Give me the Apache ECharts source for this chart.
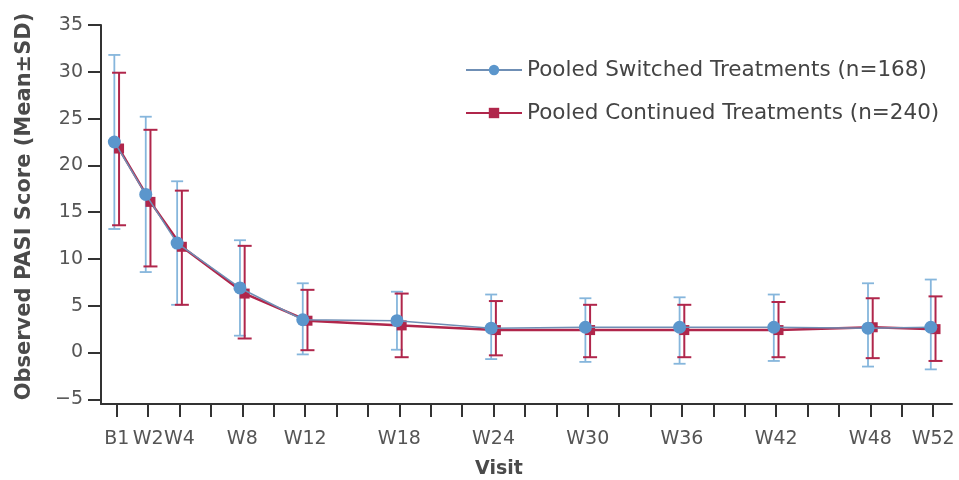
<!DOCTYPE html>
<html>
<head>
<meta charset="utf-8">
<script src="https://cdn.jsdelivr.net/npm/echarts@6/dist/echarts.min.js"></script>
<style>
  html, body { margin: 0; padding: 0; background: #fff; }
  #chart { width: 959px; height: 480px; }
</style>
</head>
<body>
<div id="chart"></div>
<script>
// visit weeks and labels
const weeks = [0, 2, 4, 8, 12, 18, 24, 30, 36, 42, 48, 52];
const visitLabels = ['B1', 'W2', 'W4', 'W8', 'W12', 'W18', 'W24', 'W30', 'W36', 'W42', 'W48', 'W52'];
const tickWeeks = [0, 2, 4, 6, 8, 10, 12, 14, 16, 18, 20, 22, 24, 26, 28, 30, 32, 34, 36, 38, 40, 42, 44, 46, 48, 50, 52];
const yTicks = [-5, 0, 5, 10, 15, 20, 25, 30, 35];

// Pooled Switched Treatments (n=168)
const switchedMean = [22.5, 16.9, 11.7, 6.9, 3.5, 3.4, 2.6, 2.7, 2.7, 2.7, 2.6, 2.7];
const switchedUpper = [31.8, 25.2, 18.3, 12.0, 7.4, 6.5, 6.2, 5.8, 5.9, 6.2, 7.4, 7.8];
const switchedLower = [13.2, 8.6, 5.1, 1.8, -0.2, 0.3, -0.7, -1.0, -1.2, -0.9, -1.5, -1.8];

// Pooled Continued Treatments (n=240)
const continuedMean = [21.8, 16.1, 11.3, 6.3, 3.4, 2.9, 2.4, 2.4, 2.4, 2.4, 2.7, 2.5];
const continuedUpper = [29.9, 23.8, 17.3, 11.4, 6.7, 6.3, 5.5, 5.1, 5.1, 5.4, 5.8, 6.0];
const continuedLower = [13.6, 9.2, 5.1, 1.5, 0.25, -0.5, -0.3, -0.5, -0.5, -0.5, -0.6, -0.9];

const blue = '#5b96cc';
const blueBar = '#86b6dc';
const red = '#b0264b';
const FONT = 'DejaVu Sans';

const SHIFT = 0.15; // small horizontal dodge between the two groups (weeks)

const chart = echarts.init(document.getElementById('chart'));

function errorBars(name, shift, upper, lower, color, capW, lw) {
  return {
    name: name,
    type: 'custom',
    silent: true,
    data: weeks.map((w, i) => [w + shift, lower[i], upper[i]]),
    renderItem(params, api) {
      const x = api.value(0);
      const lo = api.coord([x, api.value(1)]);
      const hi = api.coord([x, api.value(2)]);
      const st = { stroke: color, lineWidth: lw };
      return {
        type: 'group',
        children: [
          { type: 'line', shape: { x1: lo[0], y1: lo[1], x2: hi[0], y2: hi[1] }, style: st },
          { type: 'line', shape: { x1: hi[0] - capW / 2, y1: hi[1], x2: hi[0] + capW / 2, y2: hi[1] }, style: st },
          { type: 'line', shape: { x1: lo[0] - capW / 2, y1: lo[1], x2: lo[0] + capW / 2, y2: lo[1] }, style: st }
        ]
      };
    },
    z: 1
  };
}

const axisText = { color: '#555', fontSize: 19, fontFamily: FONT };

chart.setOption({
  animation: false,
  textStyle: { fontFamily: FONT },
  grid: { left: 101, right: 7, top: 25, bottom: 76, outerBoundsMode: 'none', containLabel: false },
  title: {
    text: 'Visit',
    left: 494,
    top: 455,
    textAlign: 'center',
    textStyle: { fontSize: 19, fontWeight: 'bold', color: '#4a4a4a', fontFamily: FONT }
  },
  legend: {
    orient: 'vertical',
    left: 460,
    top: 54,
    itemWidth: 56,
    itemHeight: 13,
    itemGap: 21,
    textStyle: { fontSize: 21.5, color: '#444', fontFamily: FONT },
    data: ['Pooled Switched Treatments (n=168)', 'Pooled Continued Treatments (n=240)']
  },
  xAxis: {
    type: 'value',
    min: -1.0,
    max: 53.2,
    splitLine: { show: false },
    axisLine: { show: true, onZero: false, lineStyle: { color: '#333', width: 2 } },
    axisTick: { show: true, length: 13, customValues: tickWeeks, lineStyle: { color: '#333', width: 2 } },
    axisLabel: {
      ...axisText,
      margin: 26,
      customValues: weeks,
      formatter: v => visitLabels[weeks.indexOf(v)] || ''
    }
  },
  yAxis: {
    type: 'value',
    min: -5.5,
    max: 35,
    name: 'Observed PASI Score (Mean±SD)',
    nameLocation: 'middle',
    nameGap: 66,
    nameTextStyle: { fontSize: 21, fontWeight: 'bold', color: '#4a4a4a', fontFamily: FONT, padding: [0, 0, 0, 16] },
    splitLine: { show: false },
    axisLine: { show: true, onZero: false, lineStyle: { color: '#333', width: 2 } },
    axisTick: { show: true, length: 13, customValues: yTicks, lineStyle: { color: '#333', width: 2 } },
    axisLabel: {
      ...axisText,
      margin: 18,
      customValues: yTicks,
      formatter: v => (v < 0 ? '\u2212' + Math.abs(v) : String(v))
    }
  },
  series: [
    errorBars('sw-err', -SHIFT, switchedUpper, switchedLower, blueBar, 12, 1.8),
    errorBars('co-err', SHIFT, continuedUpper, continuedLower, red, 14, 2),
    {
      name: 'Pooled Continued Treatments (n=240)',
      type: 'line',
      data: weeks.map((w, i) => [w + SHIFT, continuedMean[i]]),
      symbol: 'rect',
      symbolSize: 10,
      lineStyle: { color: red, width: 2.5 },
      itemStyle: { color: red },
      z: 3
    },
    {
      name: 'Pooled Switched Treatments (n=168)',
      type: 'line',
      data: weeks.map((w, i) => [w - SHIFT, switchedMean[i]]),
      symbol: 'circle',
      symbolSize: 13,
      lineStyle: { color: '#6f8fb5', width: 1.5 },
      itemStyle: { color: blue },
      z: 4
    }
  ]
});
</script>
</body>
</html>
